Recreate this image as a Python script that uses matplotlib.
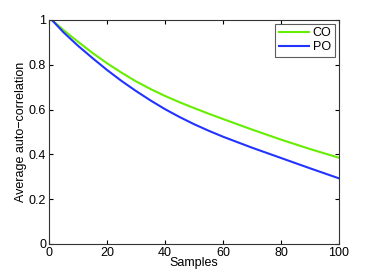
import numpy as np
import matplotlib.pyplot as plt

plt.rcParams['font.family'] = ['Liberation Sans', 'DejaVu Sans']

samples = [1, 5, 10, 15, 20, 25, 30, 35, 40, 45, 50, 55, 60, 70, 80, 90, 100]
co = [1.0, 0.955, 0.903, 0.853, 0.807, 0.765, 0.726, 0.692, 0.661, 0.633, 0.607, 0.582, 0.558,
      0.511, 0.466, 0.424, 0.385]
po = [1.0, 0.945, 0.885, 0.83, 0.777, 0.728, 0.683, 0.641, 0.602, 0.567, 0.535, 0.506, 0.479,
      0.43, 0.384, 0.338, 0.293]

fig = plt.figure(figsize=(3.74, 2.75), dpi=100)
ax = fig.add_axes([49 / 374, 31 / 275, 290 / 374, 224 / 275])

ax.plot(samples, co, color='#66ee00', lw=1.5, label='CO')
ax.plot(samples, po, color='#2233ff', lw=1.5, label='PO')

ax.set_xlim(0, 100)
ax.set_ylim(0, 1)
ax.set_xticks([0, 20, 40, 60, 80, 100])
ax.set_yticks([0, 0.2, 0.4, 0.6, 0.8, 1])
ax.set_yticklabels(['0', '0.2', '0.4', '0.6', '0.8', '1'])
ax.tick_params(direction='in', top=True, right=True, labelsize=9, length=3, pad=2)
for s in ax.spines.values():
    s.set_linewidth(0.8)
    s.set_color('#333333')

ax.set_xlabel('Samples', fontsize=9, labelpad=-1)
ax.set_ylabel('Average auto\u2212correlation', fontsize=9, labelpad=1)

leg = ax.legend(loc='upper right', fontsize=9, fancybox=False, edgecolor='#333333',
                handlelength=2.4, borderpad=0.3, labelspacing=0.15, handletextpad=0.3,
                borderaxespad=0.3)
leg.get_frame().set_linewidth(0.8)

fig.savefig('out.png', dpi=100)
